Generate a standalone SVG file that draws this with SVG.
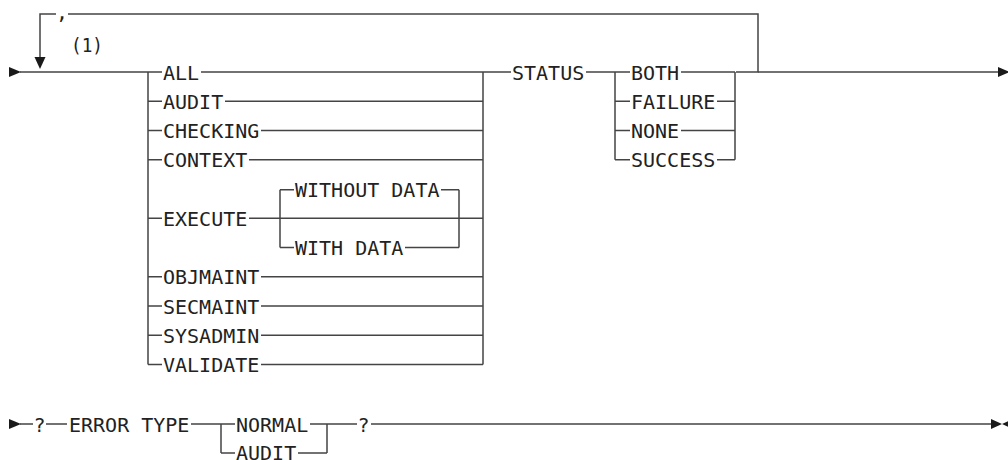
<svg xmlns="http://www.w3.org/2000/svg" width="1008" height="460" viewBox="0 0 1008 460">
<style>
  .t { font-family: "DejaVu Sans Mono", "Liberation Mono", monospace; font-size: 20px; fill: #222; }
  .l { stroke: #444; stroke-width: 1.5; fill: none; }
  .a { fill: #1a1a1a; stroke: none; }
</style>
<rect width="1008" height="460" fill="#fff"/>
<g id="connectors">
  <!-- row 1 main -->
  <path class="l" d="M20 72 H148 M148 72 V364.5 M483 72 V364.5"/>
  <!-- repeat loop -->
  <path class="l" d="M736 72 H758 V14 H68 M56 14 H40 V58"/>
  <!-- option lines in first choice -->
  <path class="l" d="M148 72 H162 M201 72 H511
    M148 101.25 H162 M225 101.25 H483
    M148 130.5 H162 M261 130.5 H483
    M148 159.75 H162 M249 159.75 H483
    M148 218.25 H162 M249 218.25 H483
    M148 276.75 H162 M261 276.75 H483
    M148 306 H162 M261 306 H483
    M148 335.25 H162 M261 335.25 H483
    M148 364.5 H162 M261 364.5 H483"/>
  <!-- EXECUTE sub-choice -->
  <path class="l" d="M280 189.75 V247.5 M459 189.75 V247.5
    M280 189.75 H294 M441 189.75 H459
    M280 247.5 H294 M405 247.5 H459"/>
  <!-- STATUS choice -->
  <path class="l" d="M586 72 H615 M615 72 V159.75 M735 72 V159.75
    M615 72 H630 M681 72 H735
    M615 101.25 H630 M717 101.25 H735
    M615 130.5 H630 M681 130.5 H735
    M615 159.75 H630 M717 159.75 H735
    M758 72 H1001"/>
  <!-- bottom row -->
  <path class="l" d="M20 424 H33 M46 424 H67 M191 424 H221
    M221 424 V453 M327 424 V453
    M221 424 H235 M310 424 H327
    M221 453 H235 M298 453 H327
    M327 424 H357 M371 424 H993"/>
  <!-- arrowheads -->
  <polygon class="a" points="9,67 21,72 9,77"/>
  <polygon class="a" points="34.5,57 45.5,57 40,69"/>
  <polygon class="a" points="998,67 1010,72 998,77"/>
  <polygon class="a" points="9,419 21,424 9,429"/>
  <polygon class="a" points="991,419 1002,424 991,429"/>
  <polygon class="a" points="1013,419 1002,424 1013,429"/>
</g>
<g id="repeat-sep"><text class="t" x="56" y="19">,</text></g>
<g id="note1"><text class="t" x="71" y="52" textLength="32" lengthAdjust="spacingAndGlyphs">(1)</text></g>
<g id="n-all"><text class="t" x="163" y="79.5">ALL</text></g>
<g id="n-audit"><text class="t" x="163" y="108.75">AUDIT</text></g>
<g id="n-checking"><text class="t" x="163" y="138">CHECKING</text></g>
<g id="n-context"><text class="t" x="163" y="167.25">CONTEXT</text></g>
<g id="n-execute"><text class="t" x="163" y="225.75">EXECUTE</text></g>
<g id="n-without-data"><text class="t" x="295" y="197.25">WITHOUT DATA</text></g>
<g id="n-with-data"><text class="t" x="295" y="255">WITH DATA</text></g>
<g id="n-objmaint"><text class="t" x="163" y="284.25">OBJMAINT</text></g>
<g id="n-secmaint"><text class="t" x="163" y="313.5">SECMAINT</text></g>
<g id="n-sysadmin"><text class="t" x="163" y="342.75">SYSADMIN</text></g>
<g id="n-validate"><text class="t" x="163" y="372">VALIDATE</text></g>
<g id="n-status"><text class="t" x="512" y="79.5">STATUS</text></g>
<g id="n-both"><text class="t" x="631" y="79.5">BOTH</text></g>
<g id="n-failure"><text class="t" x="631" y="108.75">FAILURE</text></g>
<g id="n-none"><text class="t" x="631" y="138">NONE</text></g>
<g id="n-success"><text class="t" x="631" y="167.25">SUCCESS</text></g>
<g id="n-q1"><text class="t" x="33.5" y="431.5">?</text></g>
<g id="n-error-type"><text class="t" x="69" y="431.5">ERROR TYPE</text></g>
<g id="n-normal"><text class="t" x="236" y="431.5">NORMAL</text></g>
<g id="n-audit2"><text class="t" x="236" y="459.5">AUDIT</text></g>
<g id="n-q2"><text class="t" x="357.5" y="431.5">?</text></g>
</svg>
